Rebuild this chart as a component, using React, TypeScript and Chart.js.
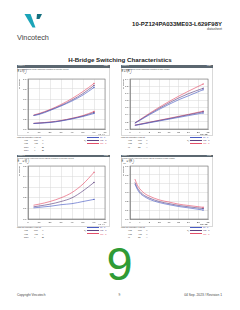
import React, { useEffect, useRef } from "react";
import { Chart, registerables } from "chart.js";
Chart.register(...registerables);

// ---------- data ----------
const tempLabels = ["25 °C", "125 °C", "150 °C"];

// Figure 1: E = f(Ic)
const fig1Ic = [5, 10, 20, 30, 40, 50, 60];
const fig1EonT25 = [0.27, 0.29, 0.37, 0.46, 0.56, 0.68, 0.83];
const fig1EonT125 = [0.27, 0.3, 0.38, 0.47, 0.58, 0.71, 0.87];
const fig1EonT150 = [0.28, 0.31, 0.39, 0.49, 0.61, 0.75, 0.91];
const fig1EoffT25 = [0.11, 0.115, 0.13, 0.16, 0.2, 0.25, 0.31];
const fig1EoffT125 = [0.11, 0.12, 0.135, 0.165, 0.21, 0.26, 0.33];
const fig1EoffT150 = [0.115, 0.12, 0.14, 0.17, 0.215, 0.27, 0.35];
const fig1XTicks = [0, 70, 10];
const fig1YTicks = [0, 1.0, 0.2];

// Figure 2: E = f(Rg)
const fig2Rg = [2, 4, 8, 12, 16, 20, 24, 30];
const fig2EonT25 = [0.16, 0.24, 0.4, 0.55, 0.69, 0.82, 0.93, 1.1];
const fig2EonT125 = [0.17, 0.25, 0.42, 0.58, 0.73, 0.87, 0.99, 1.14];
const fig2EonT150 = [0.17, 0.26, 0.44, 0.61, 0.77, 0.92, 1.06, 1.26];
const fig2EoffT25 = [0.1, 0.125, 0.175, 0.225, 0.275, 0.325, 0.375, 0.45];
const fig2EoffT125 = [0.105, 0.13, 0.185, 0.24, 0.29, 0.345, 0.4, 0.48];
const fig2EoffT150 = [0.11, 0.135, 0.19, 0.245, 0.3, 0.355, 0.41, 0.5];
const fig2XTicks = [0, 32, 4];
const fig2YTicks = [0, 1.4, 0.2];

// Figure 3: Erec = f(Ic)
const fig3Ic = [5, 10, 20, 30, 40, 50, 60];
const fig3ErecT25 = [0.105, 0.11, 0.12, 0.135, 0.145, 0.165, 0.185];
const fig3ErecT125 = [0.115, 0.1225, 0.14, 0.165, 0.2, 0.265, 0.345];
const fig3ErecT150 = [0.13, 0.14, 0.165, 0.2, 0.25, 0.33, 0.44];
const fig3XTicks = [0, 70, 10];
const fig3YTicks = [0, 0.5, 0.1];

// Figure 4: Erec = f(Rg)
const fig4Rg = [2, 3, 4, 6, 8, 12, 16, 20, 24, 30];
const fig4ErecT25 = [0.396, 0.336, 0.294, 0.252, 0.222, 0.186, 0.162, 0.141, 0.126, 0.102];
const fig4ErecT125 = [0.414, 0.354, 0.312, 0.264, 0.237, 0.198, 0.174, 0.153, 0.138, 0.118];
const fig4ErecT150 = [0.453, 0.384, 0.342, 0.288, 0.258, 0.216, 0.192, 0.168, 0.153, 0.132];
const fig4XTicks = [0, 32, 4];
const fig4YTicks = [0, 0.6, 0.1];

// ---------- styles ----------
const tempColors = ["#4a5cc4", "#5e4280", "#e4506a"];
const FONT = "'Liberation Sans', Arial, sans-serif";
const W = 240;

function series(xs: number[], ys: number[], color: string) {
  const last = xs.length - 1;
  return {
    data: xs.map((x, i) => ({ x, y: ys[i] })),
    borderColor: color,
    backgroundColor: color,
    borderWidth: 0.65,
    pointRadius: (ctx: any) => (ctx.dataIndex === last ? 1.0 : 0),
    pointStyle: "triangle",
    pointBorderWidth: 0,
    cubicInterpolationMode: "monotone",
    fill: false,
  };
}

const frameBox = {
  id: "frameBox",
  afterDraw(chart: any) {
    const { ctx, chartArea: a } = chart;
    ctx.save();
    ctx.strokeStyle = "#777";
    ctx.lineWidth = 0.6;
    ctx.strokeRect(a.left, a.top, a.right - a.left, a.bottom - a.top);
    ctx.restore();
  },
};

type CP = {
  left: number; top: number; width: number; height: number;
  yWidth: number; xHeight: number; padTop: number; padRight: number;
  datasets: any[]; xt: number[]; yt: number[]; xTitle: string; yTitle: string;
};

function LineChart(p: CP) {
  const ref = useRef<HTMLCanvasElement>(null);
  useEffect(() => {
    const tickFont = { family: FONT, size: 2.5 };
    const chart = new Chart(ref.current as HTMLCanvasElement, {
      type: "line",
      data: { datasets: p.datasets },
      options: {
        animation: false,
        responsive: false,
        maintainAspectRatio: false,
        devicePixelRatio: 1,
        layout: { padding: { top: p.padTop, right: p.padRight, left: 0, bottom: 0 } },
        plugins: { legend: { display: false }, tooltip: { enabled: false } },
        scales: {
          x: {
            type: "linear",
            min: p.xt[0],
            max: p.xt[1],
            ticks: {
              stepSize: p.xt[2], font: tickFont, color: "#333", padding: 0.5,
              autoSkip: false, maxRotation: 0,
              callback: (v: any) => String(Math.round(Number(v) * 10) / 10),
            },
            grid: { color: "#d6d6d6", lineWidth: 0.5, tickLength: 1 },
            border: { color: "#777", width: 0.6 },
            title: { display: true, text: p.xTitle, align: "end", font: tickFont, color: "#333", padding: 0 },
            afterFit: (s: any) => { s.height = p.xHeight; },
          },
          y: {
            type: "linear",
            min: p.yt[0],
            max: p.yt[1],
            ticks: {
              stepSize: p.yt[2], font: tickFont, color: "#333", padding: 0.5,
              callback: (v: any) => Number(v).toFixed(1),
            },
            grid: { color: "#d6d6d6", lineWidth: 0.5, tickLength: 1 },
            border: { color: "#777", width: 0.6 },
            title: { display: true, text: p.yTitle, align: "end", font: tickFont, color: "#333", padding: 0.5 },
            afterFit: (s: any) => { s.width = p.yWidth; },
          },
        },
      } as any,
      plugins: [frameBox],
    });
    return () => chart.destroy();
  }, []);
  return (
    <canvas
      ref={ref}
      width={p.width}
      height={p.height}
      style={{ position: "absolute", left: p.left, top: p.top, width: p.width, height: p.height }}
    />
  );
}

function T(props: { x: number; y: number; s: number; children: any; color?: string; bold?: boolean; align?: "left" | "right" | "center" }) {
  const { x, y, s, children, color = "#333", bold = false, align = "left" } = props;
  const st: any = {
    position: "absolute",
    top: y - 0.49 * s,
    fontSize: s,
    lineHeight: 1,
    fontFamily: FONT,
    color,
    fontWeight: bold ? "bold" : "normal",
    whiteSpace: "nowrap",
  };
  if (align === "left") st.left = x;
  else if (align === "right") st.right = W - x;
  else { st.left = x; st.transform = "translateX(-50%)"; }
  return <div style={st}>{children}</div>;
}

type PanelP = {
  x: number; y: number; w: number; h: number; fig: string; tag: string;
  subtitle: string; label: any; conds: [any, string, string][]; condTop: number; legendX: number;
};

function Panel(p: PanelP) {
  const rowGap = 3.3;
  return (
    <>
      <div style={{ position: "absolute", left: p.x, top: p.y, width: p.w - 1, height: p.h - 1, border: "1px solid #d9d9d9" }} />
      <div style={{ position: "absolute", left: p.x, top: p.y, width: p.w + 1, height: 2.6, background: "#5b6770" }} />
      <T x={p.x + 1} y={p.y + 1.3} s={1.8} color="#fff">{p.fig}</T>
      <T x={p.x + p.w - 1} y={p.y + 1.3} s={1.8} color="#fff" align="right">{p.tag}</T>
      <T x={p.x + 0.5} y={p.y + 4.5} s={1.8} color="#444">{p.subtitle}</T>
      <T x={p.x + 0.5} y={p.y + 7.6} s={2.6} color="#222">{p.label}</T>
      <T x={p.x} y={p.condTop} s={2.2} color="#333">With an inductive load at</T>
      {p.conds.map((c, i) => (
        <React.Fragment key={i}>
          <T x={p.x + 7} y={p.condTop + 3.2 + i * rowGap} s={2.3}>{c[0]}</T>
          <T x={p.x + 14} y={p.condTop + 3.2 + i * rowGap} s={2.3}>=</T>
          <T x={p.x + 17} y={p.condTop + 3.2 + i * rowGap} s={2.3}>{c[1]}</T>
          <T x={p.x + 25} y={p.condTop + 3.2 + i * rowGap} s={2.3}>{c[2]}</T>
        </React.Fragment>
      ))}
      <T x={p.legendX - 3} y={p.condTop + 3.3} s={2.3}>
        T<sub style={{ fontSize: 1.6 }}>j</sub>:
      </T>
      {tempLabels.map((lab, i) => (
        <React.Fragment key={lab}>
          <div style={{ position: "absolute", left: p.legendX, top: p.condTop - 0.5 + i * 3.3, width: 12, height: 0.7, background: tempColors[i] }} />
          <T x={p.legendX + 13} y={p.condTop - 0.1 + i * 3.3} s={2.1} color={tempColors[i]}>{lab}</T>
        </React.Fragment>
      ))}
    </>
  );
}

const sub = (a: string, b: string) => (
  <>
    {a}
    <sub style={{ fontSize: "70%", verticalAlign: "-0.2em" }}>{b}</sub>
  </>
);

export default function App() {
  const d1 = [
    series(fig1Ic, fig1EonT25, tempColors[0]),
    series(fig1Ic, fig1EonT125, tempColors[1]),
    series(fig1Ic, fig1EonT150, tempColors[2]),
    series(fig1Ic, fig1EoffT25, tempColors[0]),
    series(fig1Ic, fig1EoffT125, tempColors[1]),
    series(fig1Ic, fig1EoffT150, tempColors[2]),
  ];
  const d2 = [
    series(fig2Rg, fig2EonT25, tempColors[0]),
    series(fig2Rg, fig2EonT125, tempColors[1]),
    series(fig2Rg, fig2EonT150, tempColors[2]),
    series(fig2Rg, fig2EoffT25, tempColors[0]),
    series(fig2Rg, fig2EoffT125, tempColors[1]),
    series(fig2Rg, fig2EoffT150, tempColors[2]),
  ];
  const d3 = [
    series(fig3Ic, fig3ErecT25, tempColors[0]),
    series(fig3Ic, fig3ErecT125, tempColors[1]),
    series(fig3Ic, fig3ErecT150, tempColors[2]),
  ];
  const d4 = [
    series(fig4Rg, fig4ErecT25, tempColors[0]),
    series(fig4Rg, fig4ErecT125, tempColors[1]),
    series(fig4Rg, fig4ErecT150, tempColors[2]),
  ];

  return (
    <div style={{ position: "absolute", left: 0, top: 0, width: 240, height: 310, background: "#fff", overflow: "hidden" }}>
      {/* logo */}
      <svg style={{ position: "absolute", left: 23, top: 12 }} width={21} height={17} viewBox="0 0 21 17">
        <polygon points="1.5,2 7.5,2 12.5,15.5 9.5,15.5" fill="#1ba4b8" />
        <polygon points="14,2 19,2 16.5,7 13.5,7" fill="#15707f" />
      </svg>
      <T x={17} y={38} s={7.3} color="#444">Vincotech</T>
      <T x={222} y={24.3} s={6} bold color="#222" align="right">10-PZ124PA033ME03-L629F98Y</T>
      <T x={222} y={29.2} s={3.4} color="#444" align="right">datasheet</T>
      <T x={120} y={60} s={6.2} bold color="#222" align="center">H-Bridge Switching Characteristics</T>

      <Panel x={17} y={65} w={92} h={70} fig="Figure 1" tag="IGBT"
        subtitle="Typical switching energy losses as a function of collector current"
        label={<>E = f(I<sub style={{ fontSize: "70%" }}>C</sub>)</>}
        conds={[[sub("V", "CE"), "600", "V"], [sub("V", "GE"), "±15", "V"], [sub("R", "gon"), "4", "Ω"], [sub("R", "goff"), "4", "Ω"]]}
        condTop={137} legendX={87} />
      <Panel x={121} y={65} w={91} h={70} fig="Figure 2" tag="IGBT"
        subtitle="Typical switching energy losses as a function of gate resistor"
        label={<>E = f(R<sub style={{ fontSize: "70%" }}>g</sub>)</>}
        conds={[[sub("V", "CE"), "600", "V"], [sub("V", "GE"), "±15", "V"], [sub("I", "C"), "35", "A"]]}
        condTop={137} legendX={190} />
      <Panel x={17} y={154.5} w={92} h={71} fig="Figure 3" tag="FWD"
        subtitle="Typical reverse recovered energy loss as a function of collector current"
        label={<>E<sub style={{ fontSize: "70%" }}>rec</sub> = f(I<sub style={{ fontSize: "70%" }}>C</sub>)</>}
        conds={[[sub("V", "CE"), "600", "V"], [sub("V", "GE"), "±15", "V"], [sub("R", "gon"), "4", "Ω"]]}
        condTop={227.3} legendX={87} />
      <Panel x={121} y={154.5} w={91} h={71} fig="Figure 4" tag="FWD"
        subtitle="Typical reverse recovered energy loss as a function of gate resistor"
        label={<>E<sub style={{ fontSize: "70%" }}>rec</sub> = f(R<sub style={{ fontSize: "70%" }}>g</sub>)</>}
        conds={[[sub("V", "CE"), "600", "V"], [sub("V", "GE"), "±15", "V"], [sub("I", "C"), "35", "A"]]}
        condTop={227.3} legendX={190} />

      <LineChart left={17} top={75} width={92} height={61} yWidth={11} xHeight={7} padTop={4} padRight={3}
        datasets={d1} xt={fig1XTicks} yt={fig1YTicks} xTitle="IC (A)" yTitle="E (mWs)" />
      <LineChart left={121} top={75} width={91} height={61} yWidth={9} xHeight={7} padTop={2} padRight={2}
        datasets={d2} xt={fig2XTicks} yt={fig2YTicks} xTitle="RG (Ω)" yTitle="E (mWs)" />
      <LineChart left={17} top={162} width={92} height={64} yWidth={11} xHeight={7} padTop={3} padRight={3}
        datasets={d3} xt={fig3XTicks} yt={fig3YTicks} xTitle="IC (A)" yTitle="E (mWs)" />
      <LineChart left={121} top={162} width={91} height={64} yWidth={9} xHeight={7} padTop={3} padRight={2}
        datasets={d4} xt={fig4XTicks} yt={fig4YTicks} xTitle="RG (Ω)" yTitle="E (mWs)" />

      <T x={119.5} y={263.5} s={47} color="#2f9b35" align="center">9</T>

      <T x={17} y={296} s={3.2} color="#444">Copyright Vincotech</T>
      <T x={119.5} y={296} s={3.2} color="#444" align="center">9</T>
      <T x={222} y={296} s={3.3} color="#444" align="right">04 Sep. 2023 / Revision 1</T>
    </div>
  );
}
